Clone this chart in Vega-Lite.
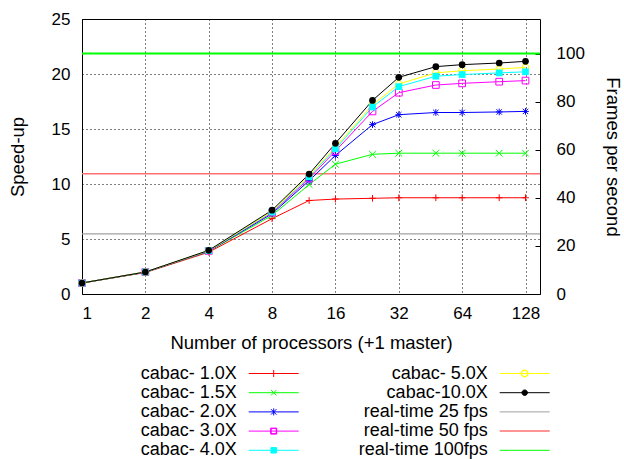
{
  "$schema": "https://vega.github.io/schema/vega-lite/v6.json",
  "width": 458,
  "height": 275,
  "autosize": {"type": "none"},
  "padding": {"left": 82, "top": 19, "right": 84, "bottom": 165},
  "background": "white",
  "config": {
    "font": "Liberation Sans",
    "view": {"stroke": "#000000", "strokeWidth": 1},
    "axis": {
      "labelFont": "Liberation Sans",
      "titleFont": "Liberation Sans",
      "labelFontSize": 17,
      "titleFontSize": 18.5,
      "titleFontWeight": "normal",
      "labelColor": "#000000",
      "titleColor": "#000000",
      "domain": false
    },
    "legend": {
      "labelFont": "Liberation Sans",
      "labelFontSize": 18,
      "labelColor": "#000000"
    }
  },
  "datasets": {
    "runs": [
      {"n": 1, "series": "cabac- 1.0X", "speedup": 1},
      {"n": 2, "series": "cabac- 1.0X", "speedup": 1.95},
      {"n": 4, "series": "cabac- 1.0X", "speedup": 3.8},
      {"n": 8, "series": "cabac- 1.0X", "speedup": 6.85},
      {"n": 12, "series": "cabac- 1.0X", "speedup": 8.5},
      {"n": 16, "series": "cabac- 1.0X", "speedup": 8.63},
      {"n": 24, "series": "cabac- 1.0X", "speedup": 8.7},
      {"n": 32, "series": "cabac- 1.0X", "speedup": 8.75},
      {"n": 48, "series": "cabac- 1.0X", "speedup": 8.75},
      {"n": 64, "series": "cabac- 1.0X", "speedup": 8.75},
      {"n": 96, "series": "cabac- 1.0X", "speedup": 8.75},
      {"n": 128, "series": "cabac- 1.0X", "speedup": 8.75},
      {"n": 1, "series": "cabac- 1.5X", "speedup": 1},
      {"n": 2, "series": "cabac- 1.5X", "speedup": 1.98},
      {"n": 4, "series": "cabac- 1.5X", "speedup": 3.88},
      {"n": 8, "series": "cabac- 1.5X", "speedup": 7.15},
      {"n": 12, "series": "cabac- 1.5X", "speedup": 9.95},
      {"n": 16, "series": "cabac- 1.5X", "speedup": 11.8},
      {"n": 24, "series": "cabac- 1.5X", "speedup": 12.7},
      {"n": 32, "series": "cabac- 1.5X", "speedup": 12.8},
      {"n": 48, "series": "cabac- 1.5X", "speedup": 12.8},
      {"n": 64, "series": "cabac- 1.5X", "speedup": 12.8},
      {"n": 96, "series": "cabac- 1.5X", "speedup": 12.8},
      {"n": 128, "series": "cabac- 1.5X", "speedup": 12.8},
      {"n": 1, "series": "cabac- 2.0X", "speedup": 1},
      {"n": 2, "series": "cabac- 2.0X", "speedup": 1.98},
      {"n": 4, "series": "cabac- 2.0X", "speedup": 3.9},
      {"n": 8, "series": "cabac- 2.0X", "speedup": 7.3},
      {"n": 12, "series": "cabac- 2.0X", "speedup": 10.3},
      {"n": 16, "series": "cabac- 2.0X", "speedup": 12.6},
      {"n": 24, "series": "cabac- 2.0X", "speedup": 15.4},
      {"n": 32, "series": "cabac- 2.0X", "speedup": 16.3},
      {"n": 48, "series": "cabac- 2.0X", "speedup": 16.5},
      {"n": 64, "series": "cabac- 2.0X", "speedup": 16.5},
      {"n": 96, "series": "cabac- 2.0X", "speedup": 16.55},
      {"n": 128, "series": "cabac- 2.0X", "speedup": 16.6},
      {"n": 1, "series": "cabac- 3.0X", "speedup": 1},
      {"n": 2, "series": "cabac- 3.0X", "speedup": 2},
      {"n": 4, "series": "cabac- 3.0X", "speedup": 3.92},
      {"n": 8, "series": "cabac- 3.0X", "speedup": 7.4},
      {"n": 12, "series": "cabac- 3.0X", "speedup": 10.5},
      {"n": 16, "series": "cabac- 3.0X", "speedup": 13.0},
      {"n": 24, "series": "cabac- 3.0X", "speedup": 16.6},
      {"n": 32, "series": "cabac- 3.0X", "speedup": 18.3},
      {"n": 48, "series": "cabac- 3.0X", "speedup": 19.0},
      {"n": 64, "series": "cabac- 3.0X", "speedup": 19.15},
      {"n": 96, "series": "cabac- 3.0X", "speedup": 19.3},
      {"n": 128, "series": "cabac- 3.0X", "speedup": 19.4},
      {"n": 1, "series": "cabac- 4.0X", "speedup": 1},
      {"n": 2, "series": "cabac- 4.0X", "speedup": 2},
      {"n": 4, "series": "cabac- 4.0X", "speedup": 3.94},
      {"n": 8, "series": "cabac- 4.0X", "speedup": 7.45},
      {"n": 12, "series": "cabac- 4.0X", "speedup": 10.65},
      {"n": 16, "series": "cabac- 4.0X", "speedup": 13.2},
      {"n": 24, "series": "cabac- 4.0X", "speedup": 17.0},
      {"n": 32, "series": "cabac- 4.0X", "speedup": 18.85},
      {"n": 48, "series": "cabac- 4.0X", "speedup": 19.8},
      {"n": 64, "series": "cabac- 4.0X", "speedup": 19.95},
      {"n": 96, "series": "cabac- 4.0X", "speedup": 20.1},
      {"n": 128, "series": "cabac- 4.0X", "speedup": 20.2},
      {"n": 1, "series": "cabac- 5.0X", "speedup": 1},
      {"n": 2, "series": "cabac- 5.0X", "speedup": 2},
      {"n": 4, "series": "cabac- 5.0X", "speedup": 3.95},
      {"n": 8, "series": "cabac- 5.0X", "speedup": 7.5},
      {"n": 12, "series": "cabac- 5.0X", "speedup": 10.75},
      {"n": 16, "series": "cabac- 5.0X", "speedup": 13.35},
      {"n": 24, "series": "cabac- 5.0X", "speedup": 17.2},
      {"n": 32, "series": "cabac- 5.0X", "speedup": 19.1},
      {"n": 48, "series": "cabac- 5.0X", "speedup": 20.1},
      {"n": 64, "series": "cabac- 5.0X", "speedup": 20.3},
      {"n": 96, "series": "cabac- 5.0X", "speedup": 20.45},
      {"n": 128, "series": "cabac- 5.0X", "speedup": 20.6},
      {"n": 1, "series": "cabac-10.0X", "speedup": 1},
      {"n": 2, "series": "cabac-10.0X", "speedup": 2},
      {"n": 4, "series": "cabac-10.0X", "speedup": 3.97},
      {"n": 8, "series": "cabac-10.0X", "speedup": 7.62},
      {"n": 12, "series": "cabac-10.0X", "speedup": 10.9},
      {"n": 16, "series": "cabac-10.0X", "speedup": 13.7},
      {"n": 24, "series": "cabac-10.0X", "speedup": 17.6},
      {"n": 32, "series": "cabac-10.0X", "speedup": 19.7},
      {"n": 48, "series": "cabac-10.0X", "speedup": 20.67},
      {"n": 64, "series": "cabac-10.0X", "speedup": 20.85},
      {"n": 96, "series": "cabac-10.0X", "speedup": 21.0},
      {"n": 128, "series": "cabac-10.0X", "speedup": 21.15}
    ],
    "realtime": [
      {"fps": 25, "series": "real-time 25 fps"},
      {"fps": 50, "series": "real-time 50 fps"},
      {"fps": 100, "series": "real-time 100fps"}
    ]
  },
  "layer": [
    {
      "data": {"name": "realtime"},
      "mark": {"type": "rule"},
      "encoding": {
        "y": {
          "field": "fps",
          "type": "quantitative",
          "scale": {"domain": [0, 114.35], "nice": false},
          "axis": {
            "orient": "right",
            "title": "Frames per second",
            "values": [0, 20, 40, 60, 80, 100],
            "grid": false,
            "ticks": true,
            "tickSize": -5,
            "tickColor": "#000000",
            "labelPadding": 21,
            "titlePadding": 18
          }
        },
        "color": {"field": "series", "type": "nominal"},
        "strokeWidth": {
          "field": "series",
          "type": "nominal",
          "scale": {
            "domain": ["real-time 25 fps", "real-time 50 fps", "real-time 100fps"],
            "range": [1.3, 2, 1]
          },
          "legend": null
        }
      }
    },
    {
      "data": {"name": "runs"},
      "encoding": {
        "x": {
          "field": "n",
          "type": "quantitative",
          "scale": {"type": "log", "base": 2, "domain": [1, 150], "nice": false},
          "axis": {
            "title": "Number of processors (+1 master)",
            "values": [1, 2, 4, 8, 16, 32, 64, 128],
            "format": "d",
            "ticks": false,
            "labelPadding": 11,
            "titlePadding": 12,
            "grid": true,
            "gridColor": "#000000",
            "gridDash": [1, 3],
            "gridWidth": 1
          }
        },
        "y": {
          "field": "speedup",
          "type": "quantitative",
          "scale": {"domain": [0, 25], "nice": false},
          "axis": {
            "orient": "left",
            "title": "Speed-up",
            "values": [0, 5, 10, 15, 20, 25],
            "ticks": false,
            "labelPadding": 12,
            "titlePadding": 24,
            "grid": true,
            "gridColor": "#000000",
            "gridDash": [1, 3],
            "gridWidth": 1
          }
        },
        "color": {
          "field": "series",
          "type": "nominal",
          "scale": {
            "domain": ["cabac- 1.0X", "cabac- 1.5X", "cabac- 2.0X", "cabac- 3.0X", "cabac- 4.0X", "cabac- 5.0X", "cabac-10.0X", "real-time 25 fps", "real-time 50 fps", "real-time 100fps"],
            "range": ["#ff0000", "#00ff00", "#0000ff", "#ff00ff", "#00ffff", "#ffff00", "#000000", "#a0a0a0", "#ff7070", "#00ff00"]
          },
          "legend": {
            "title": null,
            "orient": "none",
            "legendX": 154.7,
            "legendY": 345.5,
            "columns": 2,
            "columnPadding": 41,
            "rowPadding": 1.2,
            "padding": 0,
            "encode": {
              "symbols": {
                "update": {
                  "x": {"value": 37},
                  "size": {"value": 100},
                  "opacity": {"value": 1},
                  "strokeWidth": {"signal": "datum.value === 'real-time 50 fps' ? 1.5 : 1"},
                  "stroke": {"scale": "color", "field": "value"},
                  "shape": {"signal": "datum.value === 'cabac- 1.0X' ? 'M-36,0M-5,0H5M0,-0.7V0.7' : datum.value === 'cabac- 1.5X' ? 'M-36,0M-5,0H5M-0.55,-0.55L0.55,0.55M-0.55,0.55L0.55,-0.55' : datum.value === 'cabac- 2.0X' ? 'M-36,0M-5,0H5M0,-0.7V0.7M-0.55,-0.55L0.55,0.55M-0.55,0.55L0.55,-0.55' : datum.value === 'cabac- 3.0X' ? 'M-36,0M-5,0H5M-0.6,-0.6H0.6V0.6H-0.6ZM-0.5,-0.5V0.5H0.5V-0.5Z' : datum.value === 'cabac- 4.0X' ? 'M-36,0M-5,0H5M-0.55,-0.55H0.55V0.55H-0.55Z' : datum.value === 'cabac- 5.0X' ? 'M-36,0M-5,0H5M-0.7,0A0.7,0.7,0,1,0,0.7,0A0.7,0.7,0,1,0,-0.7,0ZM-0.6,0A0.6,0.6,0,1,1,0.6,0A0.6,0.6,0,1,1,-0.6,0Z' : datum.value === 'cabac-10.0X' ? 'M-36,0M-5,0H5M-0.55,0A0.55,0.55,0,1,0,0.55,0A0.55,0.55,0,1,0,-0.55,0Z' : 'M-36,0M-5,0H5'"}
                }
              },
              "labels": {
                "update": {
                  "x": {"value": 0},
                  "align": {"value": "right"}
                }
              }
            }
          }
        }
      },
      "layer": [
        {
          "mark": {"type": "line", "strokeWidth": 1}
        },
        {
          "transform": [{"filter": "datum.series !== 'cabac- 4.0X' && datum.series !== 'cabac-10.0X'"}],
          "mark": {"type": "point", "filled": false, "strokeWidth": 1, "size": 45, "opacity": 1},
          "encoding": {
            "shape": {
              "field": "series",
              "type": "nominal",
              "scale": {
                "domain": ["cabac- 1.0X", "cabac- 1.5X", "cabac- 2.0X", "cabac- 3.0X", "cabac- 4.0X", "cabac- 5.0X", "cabac-10.0X"],
                "range": ["M-1,0H1M0,-1V1", "M-1,-1L1,1M-1,1L1,-1", "M-1,0H1M0,-1V1M-0.8,-0.8L0.8,0.8M-0.8,0.8L0.8,-0.8", "square", "square", "circle", "circle"]
              },
              "legend": null
            }
          }
        },
        {
          "transform": [{"filter": "datum.series === 'cabac- 4.0X' || datum.series === 'cabac-10.0X'"}],
          "mark": {"type": "point", "filled": true, "size": 45, "opacity": 1},
          "encoding": {
            "shape": {
              "field": "series",
              "type": "nominal",
              "legend": null
            }
          }
        }
      ]
    }
  ],
  "resolve": {"scale": {"y": "independent"}}
}
